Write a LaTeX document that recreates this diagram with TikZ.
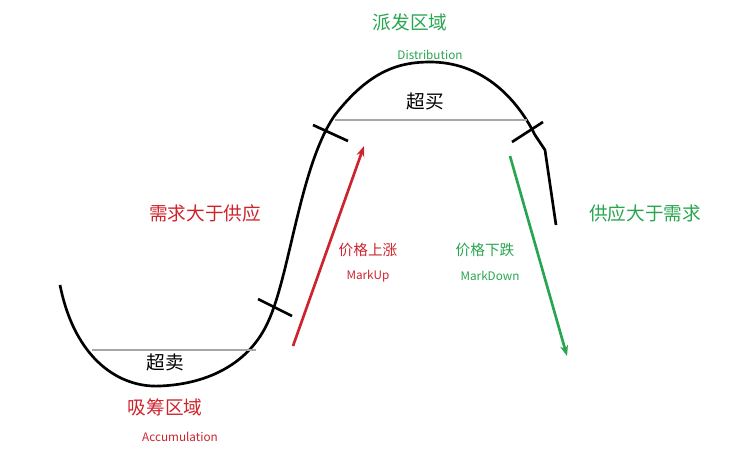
\documentclass[tikz,border=0pt]{standalone}
\usepackage{fontspec}
\setmainfont{Noto Sans CJK SC}
\usetikzlibrary{arrows.meta}
\definecolor{upred}{RGB}{205,35,45}
\definecolor{downgreen}{RGB}{40,165,80}
\tikzset{
  zone/.style={font=\fontsize{14}{16}\selectfont},
  sub/.style={font=\fontsize{8.8}{10}\selectfont},
  curve/.style={line width=2pt,black},
  tick/.style={line width=2pt,black},
  level/.style={draw=gray!70,line width=1pt},
}
\begin{document}
\begin{tikzpicture}[x=0.75pt,y=-0.75pt]
			\useasboundingbox (0,0) rectangle (751,453);
			% price curve
			\draw[curve] (60,285) .. controls (75,360) and (120,388) .. (160,386)
			  .. controls (210,384) and (250,362) .. (268,322)
			  .. controls (290,275) and (300,165) .. (335,115)
			  .. controls (370,70) and (400,62) .. (430,62)
			  .. controls (480,62) and (515,95) .. (535,135)
			  -- (545,150) -- (556,225);
			% levels
			\draw[level] (92,350) -- (256,350);
			\draw[level] (335,120) -- (527,120);
			% ticks
			\draw[tick] (258,299) -- (292,316);
			\draw[tick] (313,125) -- (348,141);
			\draw[tick] (512,142) -- (543,122);
			% texts
			\node[zone,text=downgreen] (Dist) at (410,22) {派发区域};
			\node[sub,text=downgreen] (DistEn) at (430,55) {Distribution};
			\node[zone] (Overbought) at (425,101) {超买};
			\node[zone,text=upred] (Demand) at (205,213) {需求大于供应};
			\node[font=\fontsize{11}{13}\selectfont,text=upred] (Up) at (368,250) {价格上涨};
			\node[sub,text=upred] (UpEn) at (368,276) {MarkUp};
			\node[font=\fontsize{11}{13}\selectfont,text=downgreen] (Down) at (485,250) {价格下跌};
			\node[sub,text=downgreen] (DownEn) at (490,276) {MarkDown};
			\node[zone,text=downgreen] (Supply) at (645,213) {供应大于需求};
			\node[zone] (Oversold) at (165,362) {超卖};
			\node[zone,text=upred] (Accu) at (165,407) {吸筹区域};
			\node[sub,text=upred] (AccuEn) at (180,437) {Accumulation};
			% arrows
			\coordinate (UpS) at (293,346);
			\coordinate (UpE) at (364,146);
			\coordinate (DownS) at (510,156);
			\coordinate (DownE) at (567,356);
			\draw[-{Stealth[length=8pt,width=6pt]},upred,line width=2pt] (UpS) -- (UpE);
			\draw[-{Stealth[length=8pt,width=6pt]},downgreen,line width=2pt] (DownS) -- (DownE);
\end{tikzpicture}
\end{document}
